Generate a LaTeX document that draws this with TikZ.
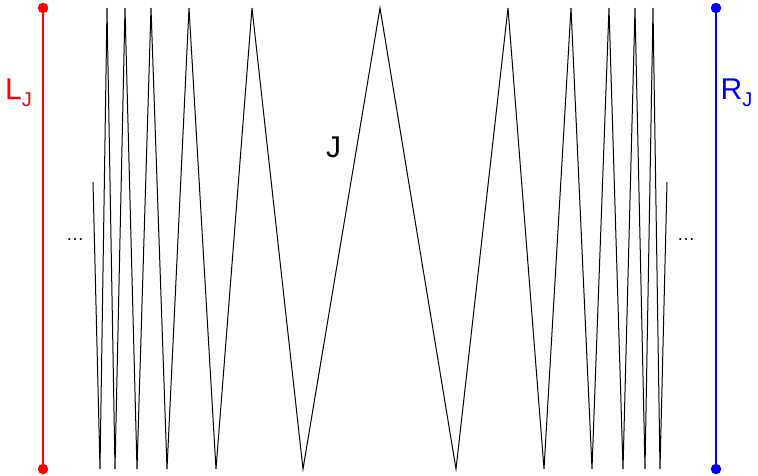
\documentclass[tikz,border=0pt]{standalone}
\usepackage{fontspec}
\setmainfont{Liberation Sans}
\begin{document}
\begin{tikzpicture}[x=1pt,y=-1pt,
  zig/.style={black,line width=1pt,line join=miter},
  bound/.style={line width=1.4pt},
  enddot/.style={circle,fill,inner sep=0pt,minimum size=10.5pt},
  lab/.style={inner sep=0pt,anchor=base west,font=\fontsize{30}{30}\selectfont},
  dots/.style={inner sep=0pt,font=\fontsize{18}{18}\selectfont}]
\useasboundingbox (0,0) rectangle (758,476);
% boundary lines
\node[enddot,red] (LT) at (43,8) {};
\node[enddot,red] (LB) at (43,469) {};
\draw[bound,red] (LT.center) -- (LB.center);
\node[enddot,blue] (RT) at (716,8) {};
\node[enddot,blue] (RB) at (716,469) {};
\draw[bound,blue] (RT.center) -- (RB.center);
% zigzag
\coordinate (s) at (93,182);
\coordinate (e) at (667,182);
\draw[zig] (s) -- (100,469) -- (107,8) -- (115,469) -- (125,8) -- (137,469)
  -- (151,8) -- (167,469) -- (189,8) -- (216,469) -- (252,8) -- (303,469)
  -- (380,8) -- (456,469) -- (508,8) -- (544,469) -- (571,8) -- (592,469)
  -- (609,8) -- (623,469) -- (635,8) -- (645,469) -- (653,8) -- (660,469) -- (e);
% labels
\node[lab,red] (Lj) at (5,100) {L\raisebox{-6.5pt}{\fontsize{20}{20}\selectfont J}};
\node[lab,blue] (Rj) at (720.5,100) {R\raisebox{-6.5pt}{\fontsize{20}{20}\selectfont J}};
\node[lab] (J) at (326,157.5) {J};
\node[dots] (dl) at (75,240) {…};
\node[dots] (dr) at (686,240) {…};
\end{tikzpicture}
\end{document}
